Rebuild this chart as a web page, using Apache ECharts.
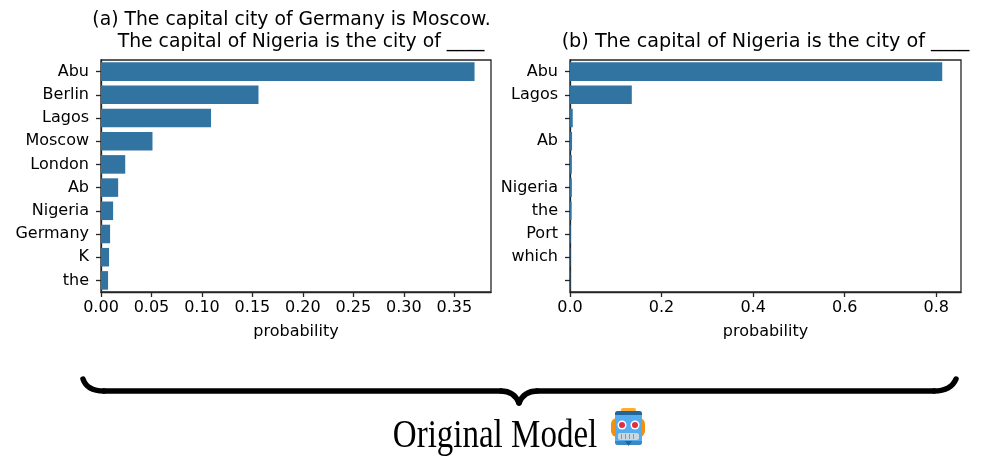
<!DOCTYPE html>
<html>
<head>
<meta charset="utf-8">
<script src="https://cdn.jsdelivr.net/npm/echarts@6/dist/echarts.min.js"></script>
<style>
html,body{margin:0;padding:0;background:#fff;}
#chart{width:994px;height:471px;}
</style>
</head>
<body>
<div id="chart"></div>
<script>
// Panel (a)
const catsA = ['Abu', 'Berlin', 'Lagos', 'Moscow', 'London', 'Ab', 'Nigeria', 'Germany', 'K', 'the'];
const valsA = [0.370, 0.156, 0.109, 0.051, 0.024, 0.017, 0.012, 0.009, 0.008, 0.007];
const ticksA = [0.00, 0.05, 0.10, 0.15, 0.20, 0.25, 0.30, 0.35];
// Panel (b) (blank labels are whitespace tokens)
const catsB = ['Abu', 'Lagos', ' ', 'Ab', '  ', 'Nigeria', 'the', 'Port', 'which', '   '];
const valsB = [0.813, 0.135, 0.006, 0.0045, 0.004, 0.004, 0.0035, 0.0015, 0.001, 0.0008];
const ticksB = [0.0, 0.2, 0.4, 0.6, 0.8];

const titleA1 = '(a) The capital city of Germany is Moscow.';
const titleA2 = 'The capital of Nigeria is the city of ____';
const titleB = '(b) The capital of Nigeria is the city of ____';
const footer = 'Original Model';

const FONT = 'DejaVu Sans';
const BAR = '#3274a1';
const INK = '#262626';

const chart = echarts.init(document.getElementById('chart'), null, {renderer: 'canvas'});

function xAxis(gridIndex, max, interval, digits) {
  return {
    type: 'value', gridIndex, min: 0, max, interval,
    name: 'probability', nameLocation: 'middle', nameGap: 32,
    nameTextStyle: {fontFamily: FONT, fontSize: 16, color: '#000'},
    axisLine: {show: true, lineStyle: {color: INK, width: 1.3}},
    axisTick: {show: true, inside: false, length: 5, lineStyle: {color: INK, width: 1.3}},
    axisLabel: {show: true, margin: 8, fontFamily: FONT, fontSize: 16, color: '#000', showMaxLabel: false,
      formatter: v => Number(v).toFixed(digits)},
    splitLine: {show: false}
  };
}
function yAxis(gridIndex, cats) {
  return {
    type: 'category', gridIndex, data: cats, inverse: true,
    axisLine: {show: true, lineStyle: {color: INK, width: 1.3}},
    axisTick: {show: true, alignWithLabel: true, length: 5, lineStyle: {color: INK, width: 1.3}},
    axisLabel: {show: true, margin: 12, fontFamily: FONT, fontSize: 16, color: '#000', interval: 0},
    splitLine: {show: false}
  };
}

const braceStyle = {fill: null, stroke: '#000', lineWidth: 5.5, lineCap: 'round'};
const brace = [
  {type: 'bezierCurve', shape: {x1: 83, y1: 379, cpx1: 87, cpy1: 391, x2: 104, y2: 391}, style: braceStyle},
  {type: 'line', shape: {x1: 104, y1: 391, x2: 501, y2: 391}, style: braceStyle},
  {type: 'bezierCurve', shape: {x1: 501, y1: 391, cpx1: 514, cpy1: 391, x2: 519, y2: 403}, style: braceStyle},
  {type: 'bezierCurve', shape: {x1: 519, y1: 403, cpx1: 524, cpy1: 391, x2: 537, y2: 391}, style: braceStyle},
  {type: 'line', shape: {x1: 537, y1: 391, x2: 934, y2: 391}, style: braceStyle},
  {type: 'bezierCurve', shape: {x1: 934, y1: 391, cpx1: 951, cpy1: 391, x2: 956, y2: 379}, style: braceStyle}
];

chart.setOption({
  backgroundColor: '#fff',
  animation: false,
  grid: [
    {left: 101, top: 60, width: 390, height: 232, show: true, borderColor: INK, borderWidth: 1.3, backgroundColor: 'transparent'},
    {left: 570, top: 60, width: 391, height: 232, show: true, borderColor: INK, borderWidth: 1.3, backgroundColor: 'transparent'}
  ],
  xAxis: [xAxis(0, 0.3863, 0.05, 2), xAxis(1, 0.854, 0.2, 1)],
  yAxis: [yAxis(0, catsA), yAxis(1, catsB)],
  series: [
    {type: 'bar', xAxisIndex: 0, yAxisIndex: 0, data: valsA, barCategoryGap: '20%', itemStyle: {color: BAR}},
    {type: 'bar', xAxisIndex: 1, yAxisIndex: 1, data: valsB, barCategoryGap: '20%', itemStyle: {color: BAR}}
  ],
  graphic: [
    {type: 'text', x: 291.5, y: 20, style: {text: titleA1, font: '18.8px "DejaVu Sans"', fill: '#000', textAlign: 'center', textVerticalAlign: 'middle'}},
    {type: 'text', x: 301, y: 42, style: {text: titleA2, font: '18.8px "DejaVu Sans"', fill: '#000', textAlign: 'center', textVerticalAlign: 'middle'}},
    {type: 'text', x: 765.5, y: 42, style: {text: titleB, font: '19.2px "DejaVu Sans"', fill: '#000', textAlign: 'center', textVerticalAlign: 'middle'}}
  ].concat(brace).concat([
    {type: 'text', x: 495, y: 437, scaleY: 1.2, style: {text: footer, font: '33px "Liberation Serif"', fill: '#000', textAlign: 'center', textVerticalAlign: 'middle'}},
    {type: 'group', x: 0, y: 0, children: [
      {type: 'rect', shape: {x: 611, y: 418, width: 34, height: 19, r: 6}, style: {fill: '#f4900c'}},
      {type: 'rect', shape: {x: 615, y: 411, width: 27, height: 34, r: 3}, style: {fill: '#55acee'}},
      {type: 'rect', shape: {x: 615, y: 411, width: 27, height: 4, r: [3,3,0,0]}, style: {fill: '#226699'}},
      {type: 'rect', shape: {x: 621, y: 408, width: 15, height: 3, r: [2,2,0,0]}, style: {fill: '#ffac33'}},
      {type: 'circle', shape: {cx: 622, cy: 425, r: 4.5}, style: {fill: '#fff'}},
      {type: 'circle', shape: {cx: 635, cy: 425, r: 4.5}, style: {fill: '#fff'}},
      {type: 'circle', shape: {cx: 622, cy: 425, r: 3}, style: {fill: '#dd2e44'}},
      {type: 'circle', shape: {cx: 635, cy: 425, r: 3}, style: {fill: '#dd2e44'}},
      {type: 'rect', shape: {x: 618, y: 433, width: 21, height: 7, r: 2}, style: {fill: '#ccd6dd'}},
      {type: 'rect', shape: {x: 621, y: 434, width: 1, height: 5}, style: {fill: '#8899a6'}},
      {type: 'rect', shape: {x: 625, y: 434, width: 1, height: 5}, style: {fill: '#8899a6'}},
      {type: 'rect', shape: {x: 629, y: 434, width: 1, height: 5}, style: {fill: '#8899a6'}},
      {type: 'rect', shape: {x: 633, y: 434, width: 1, height: 5}, style: {fill: '#8899a6'}},
      {type: 'rect', shape: {x: 615, y: 441, width: 27, height: 4, r: [0,0,3,3]}, style: {fill: '#3b88c3'}},
      {type: 'polygon', shape: {points: [[625, 441], [632, 441], [628.5, 446]]}, style: {fill: '#226699'}}
    ]}
  ])
});
</script>
</body>
</html>
